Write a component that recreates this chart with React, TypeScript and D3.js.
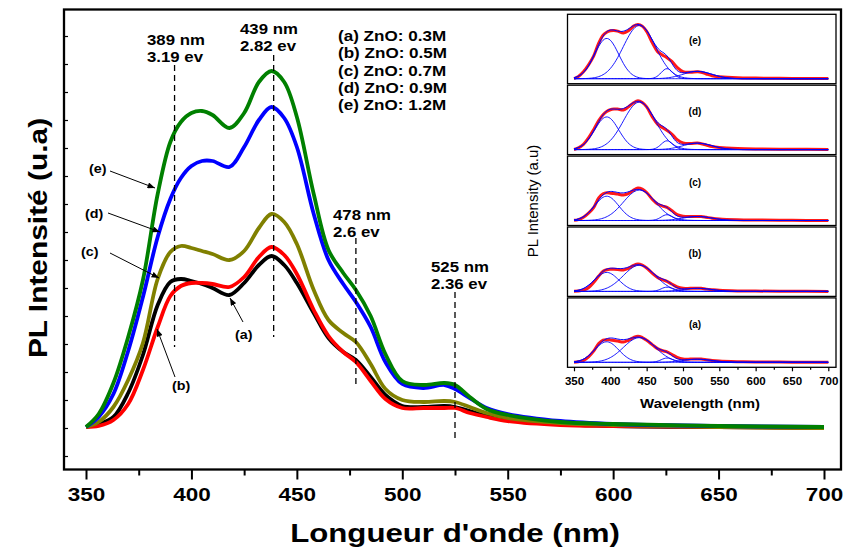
import React, { useEffect, useRef } from "react";
import * as d3 from "d3";

const W = 846;
const H = 551;

// wavelength grid (nm) and PL intensity (a.u.)
const wavelength = [350, 356, 363, 370, 377, 384, 390, 395, 400, 405, 410, 418, 425, 432, 438, 444, 450, 458, 465, 472, 478, 485, 492, 500, 510, 520, 525, 532, 540, 550, 575, 600, 650, 700];
const pl_a = [1, 4, 11, 35, 73, 123, 146, 149, 147, 144, 140, 133, 145, 163, 172, 163, 145, 115, 90, 76, 68, 51, 33, 22, 21, 22, 21, 17, 12, 8, 4, 2, 1, 0];
const pl_b = [1, 2, 8, 24, 58, 101, 132, 142, 145, 145, 144, 141, 151, 171, 181, 173, 154, 118, 92, 76, 66, 47, 29, 20, 20, 20, 20, 15, 11, 7, 3, 2, 1, 0];
const pl_c = [1, 6, 21, 48, 85, 149, 176, 182, 180, 177, 174, 168, 177, 200, 214, 206, 184, 138, 108, 95, 86, 64, 39, 28, 26, 27, 26, 21, 15, 10, 5, 3, 1, 0];
const pl_d = [1, 11, 34, 77, 131, 191, 229, 250, 262, 267, 267, 261, 281, 308, 321, 310, 281, 214, 168, 144, 126, 101, 66, 44, 40, 43, 39, 30, 20, 14, 7, 4, 2, 1];
const pl_e = [1, 14, 45, 91, 148, 234, 286, 306, 315, 317, 313, 300, 315, 346, 357, 346, 311, 234, 178, 155, 138, 112, 74, 47, 43, 45, 43, 31, 19, 13, 6, 4, 2, 1];

const sampleKeys = ["a", "b", "c", "d", "e"];
const sampleLegend = ["(a) ZnO: 0.3M", "(b) ZnO: 0.5M", "(c) ZnO: 0.7M", "(d) ZnO: 0.9M", "(e) ZnO: 1.2M"];
const sampleColors = ["#000000", "#ff0000", "#808000", "#0000ff", "#008000"];
const sampleValues = [pl_a, pl_b, pl_c, pl_d, pl_e];

// gaussian deconvolution (inset): centres, sigmas, heights per sample
const peakCenter = [395, 440, 478, 520];
const peakSigma = [16.5, 22, 8, 20];
const peakHeight_a = [135, 162, 28, 20];
const peakHeight_b = [125, 172, 28, 20];
const peakHeight_c = [160, 200, 38, 26];
const peakHeight_d = [215, 312, 58, 42];
const peakHeight_e = [265, 350, 66, 48];
const peakHeights = [peakHeight_a, peakHeight_b, peakHeight_c, peakHeight_d, peakHeight_e];

// marked emission lines
const markAt = [392, 439, 478, 525];
const markTop = [363, 373, 190, 136];
const markBottom = [81, 91, 40, -12];
const markNm = ["389 nm", "439 nm", "478 nm", "525 nm"];
const markEv = ["3.19 ev", "2.82 ev", "2.6 ev", "2.36 ev"];

const xTicks = [350, 400, 450, 500, 550, 600, 650, 700];

const FONT = "'Liberation Sans', Arial, Helvetica, sans-serif";

const App = () => {
  const svgRef = useRef(null);

  useEffect(() => {
    const svg = d3.select(svgRef.current);
    svg.selectAll("*").remove();
    svg.append("rect").attr("width", W).attr("height", H).attr("fill", "#fff");

    const txt = (sel, x, y, s, size, o: any = {}) =>
      sel.append("text")
        .attr("transform", `translate(${x},${y}) rotate(${o.rot || 0}) scale(${o.sx || 1},1)`)
        .attr("font-family", FONT)
        .attr("font-size", size)
        .attr("font-weight", o.weight || "bold")
        .attr("text-anchor", o.anchor || "start")
        .attr("fill", "#000")
        .text(s);

    svg.append("defs").append("marker")
      .attr("id", "arr").attr("viewBox", "0 0 10 8").attr("refX", 10).attr("refY", 4)
      .attr("markerWidth", 8).attr("markerHeight", 6).attr("markerUnits", "userSpaceOnUse")
      .attr("orient", "auto")
      .append("path").attr("d", "M0,0L10,4L0,8z").attr("fill", "#000");

    // ---- main plot
    const x = d3.scaleLinear().domain([350, 700]).range([86, 824]);
    const y = d3.scaleLinear().domain([-41.5, 418.5]).range([469.5, 9.5]);

    const line = d3.line<number>()
      .x((d, i) => x(wavelength[i]))
      .y(d => y(d))
      .curve(d3.curveCatmullRom.alpha(0.5));

    sampleValues.forEach((vals, i) => {
      svg.append("path").attr("d", line(vals)).attr("fill", "none")
        .attr("stroke", sampleColors[i]).attr("stroke-width", 3.8).attr("stroke-linejoin", "round");
    });

    markAt.forEach((m, i) => {
      svg.append("line").attr("x1", x(m)).attr("x2", x(m)).attr("y1", y(markTop[i])).attr("y2", y(markBottom[i]))
        .attr("stroke", "#000").attr("stroke-width", 1.3).attr("stroke-dasharray", "6,4");
    });

    // annotation text for the marked lines
    const annPos = [[147, 45], [240, 33.5], [333, 219.5], [431, 272]];
    annPos.forEach((p, i) => {
      txt(svg, p[0], p[1], markNm[i], 14, { sx: 1.2 });
      txt(svg, p[0], p[1] + 17, markEv[i], 14, { sx: 1.2 });
    });

    // legend
    sampleLegend.forEach((s, i) => txt(svg, 338, 41 + i * 17.25, s, 14, { sx: 1.22 }));

    // curve labels with arrows
    const tags = [
      { t: "(a)", tx: 235, ty: 339, x1: 243, y1: 322, x2: 230, y2: 298 },
      { t: "(b)", tx: 172, ty: 390, x1: 175, y1: 377, x2: 157, y2: 329 },
      { t: "(c)", tx: 81, ty: 256, x1: 110, y1: 253, x2: 159, y2: 278 },
      { t: "(d)", tx: 85, ty: 218, x1: 108, y1: 213, x2: 160, y2: 232 },
      { t: "(e)", tx: 89, ty: 173, x1: 110, y1: 171, x2: 155, y2: 188 },
    ];
    tags.forEach(a => {
      txt(svg, a.tx, a.ty, a.t, 13, { sx: 1.1 });
      svg.append("line").attr("x1", a.x1).attr("y1", a.y1).attr("x2", a.x2).attr("y2", a.y2)
        .attr("stroke", "#000").attr("stroke-width", 1).attr("marker-end", "url(#arr)");
    });

    // frame
    svg.append("rect").attr("x", 64).attr("y", 9.5).attr("width", 777).attr("height", 460)
      .attr("fill", "none").attr("stroke", "#000").attr("stroke-width", 2.3);

    // y ticks (inside, no labels)
    svg.append("g").attr("transform", "translate(64,0)")
      .call(d3.axisRight(y).tickValues(d3.range(-28, 400, 28)).tickSize(4).tickFormat(() => ""))
      .call(g => g.select(".domain").remove())
      .selectAll("line").attr("stroke-width", 1.2);

    // x axis
    const xg = svg.append("g").attr("transform", "translate(0,469.5)");
    xg.call(d3.axisBottom(x).tickValues(xTicks).tickSize(10).tickPadding(9).tickSizeOuter(0).tickFormat(d3.format("d")))
      .call(g => g.select(".domain").remove());
    xg.selectAll("line").attr("stroke-width", 2);
    xg.selectAll("text").attr("font-family", FONT).attr("font-size", 18).attr("font-weight", "bold")
      .attr("fill", "#000").attr("transform", "scale(1.25,1)");
    svg.append("g").attr("transform", "translate(0,469.5)")
      .call(d3.axisBottom(x).tickValues(d3.range(375, 700, 50)).tickSize(6).tickFormat(() => "").tickSizeOuter(0))
      .call(g => g.select(".domain").remove())
      .selectAll("line").attr("stroke-width", 2);

    txt(svg, 455, 541.5, "Longueur d'onde (nm)", 26, { anchor: "middle", sx: 1.2 });
    txt(svg, 47, 238, "PL Intensité (u.a)", 26, { anchor: "middle", rot: -90, sx: 1.15 });

    // ---- inset
    const ix = d3.scaleLinear().domain([350, 700]).range([574, 828.3]);
    const grid = d3.range(350, 701, 2);
    const order = [4, 3, 2, 1, 0];
    let lastBottom = 0;
    order.forEach((si, row) => {
      const top = 14.3 + row * 70.9;
      const bottom = top + 69.4;
      lastBottom = bottom;
      const base = bottom - 5;
      const iy = d3.scaleLinear().domain([0, 400]).range([base, base - 60.8]);
      const g = svg.append("g");
      g.append("rect").attr("x", 567.5).attr("y", top).attr("width", 268.5).attr("height", bottom - top)
        .attr("fill", "#fff").attr("stroke", "#000").attr("stroke-width", 1.3);

      const rl = d3.line<number>().x((d, i) => ix(wavelength[i])).y(d => iy(d)).curve(d3.curveCatmullRom.alpha(0.5));
      g.append("path").attr("d", rl(sampleValues[si])).attr("fill", "none")
        .attr("stroke", "#ff0000").attr("stroke-width", 3).attr("stroke-opacity", 0.9);

      const hs = peakHeights[si];
      const comp = (k, l) => hs[k] * Math.exp(-((l - peakCenter[k]) ** 2) / (2 * peakSigma[k] ** 2));
      peakCenter.forEach((c, k) => {
        const pts = grid.map(l => [ix(l), iy(comp(k, l))] as [number, number]);
        g.append("path").attr("d", d3.line()(pts)).attr("fill", "none").attr("stroke", "#0000ff").attr("stroke-width", 0.9);
      });
      const env = grid.map(l => [ix(l), iy(peakCenter.reduce((s, c, k) => s + comp(k, l), 0))] as [number, number]);
      g.append("path").attr("d", d3.line()(env)).attr("fill", "none").attr("stroke", "#0000ff").attr("stroke-width", 1);

      txt(g, 695, top + 30, `(${sampleKeys[si]})`, 10, { anchor: "middle" });
    });

    const ig = svg.append("g").attr("transform", `translate(0,${lastBottom})`);
    ig.call(d3.axisBottom(ix).tickValues(xTicks).tickSize(4).tickPadding(6).tickSizeOuter(0).tickFormat(d3.format("d")))
      .call(g => g.select(".domain").remove());
    ig.selectAll("line").attr("stroke-width", 1.2);
    ig.selectAll("text").attr("font-family", FONT).attr("font-size", 10.5).attr("font-weight", "bold")
      .attr("fill", "#000").attr("transform", "scale(1.1,1)");
    svg.append("g").attr("transform", `translate(0,${lastBottom})`)
      .call(d3.axisBottom(ix).tickValues(d3.range(375, 700, 50)).tickSize(2.5).tickFormat(() => "").tickSizeOuter(0))
      .call(g => g.select(".domain").remove())
      .selectAll("line").attr("stroke-width", 1.2);

    txt(svg, 700, 408, "Wavelength (nm)", 13, { anchor: "middle", sx: 1.15 });
    txt(svg, 538, 201, "PL Intensity (a.u)", 14, { anchor: "middle", rot: -90, weight: "normal", sx: 1.07 });
  }, []);

  return <svg ref={svgRef} width={W} height={H} style={{ position: "absolute", left: 0, top: 0 }}></svg>;
};

export default App;
